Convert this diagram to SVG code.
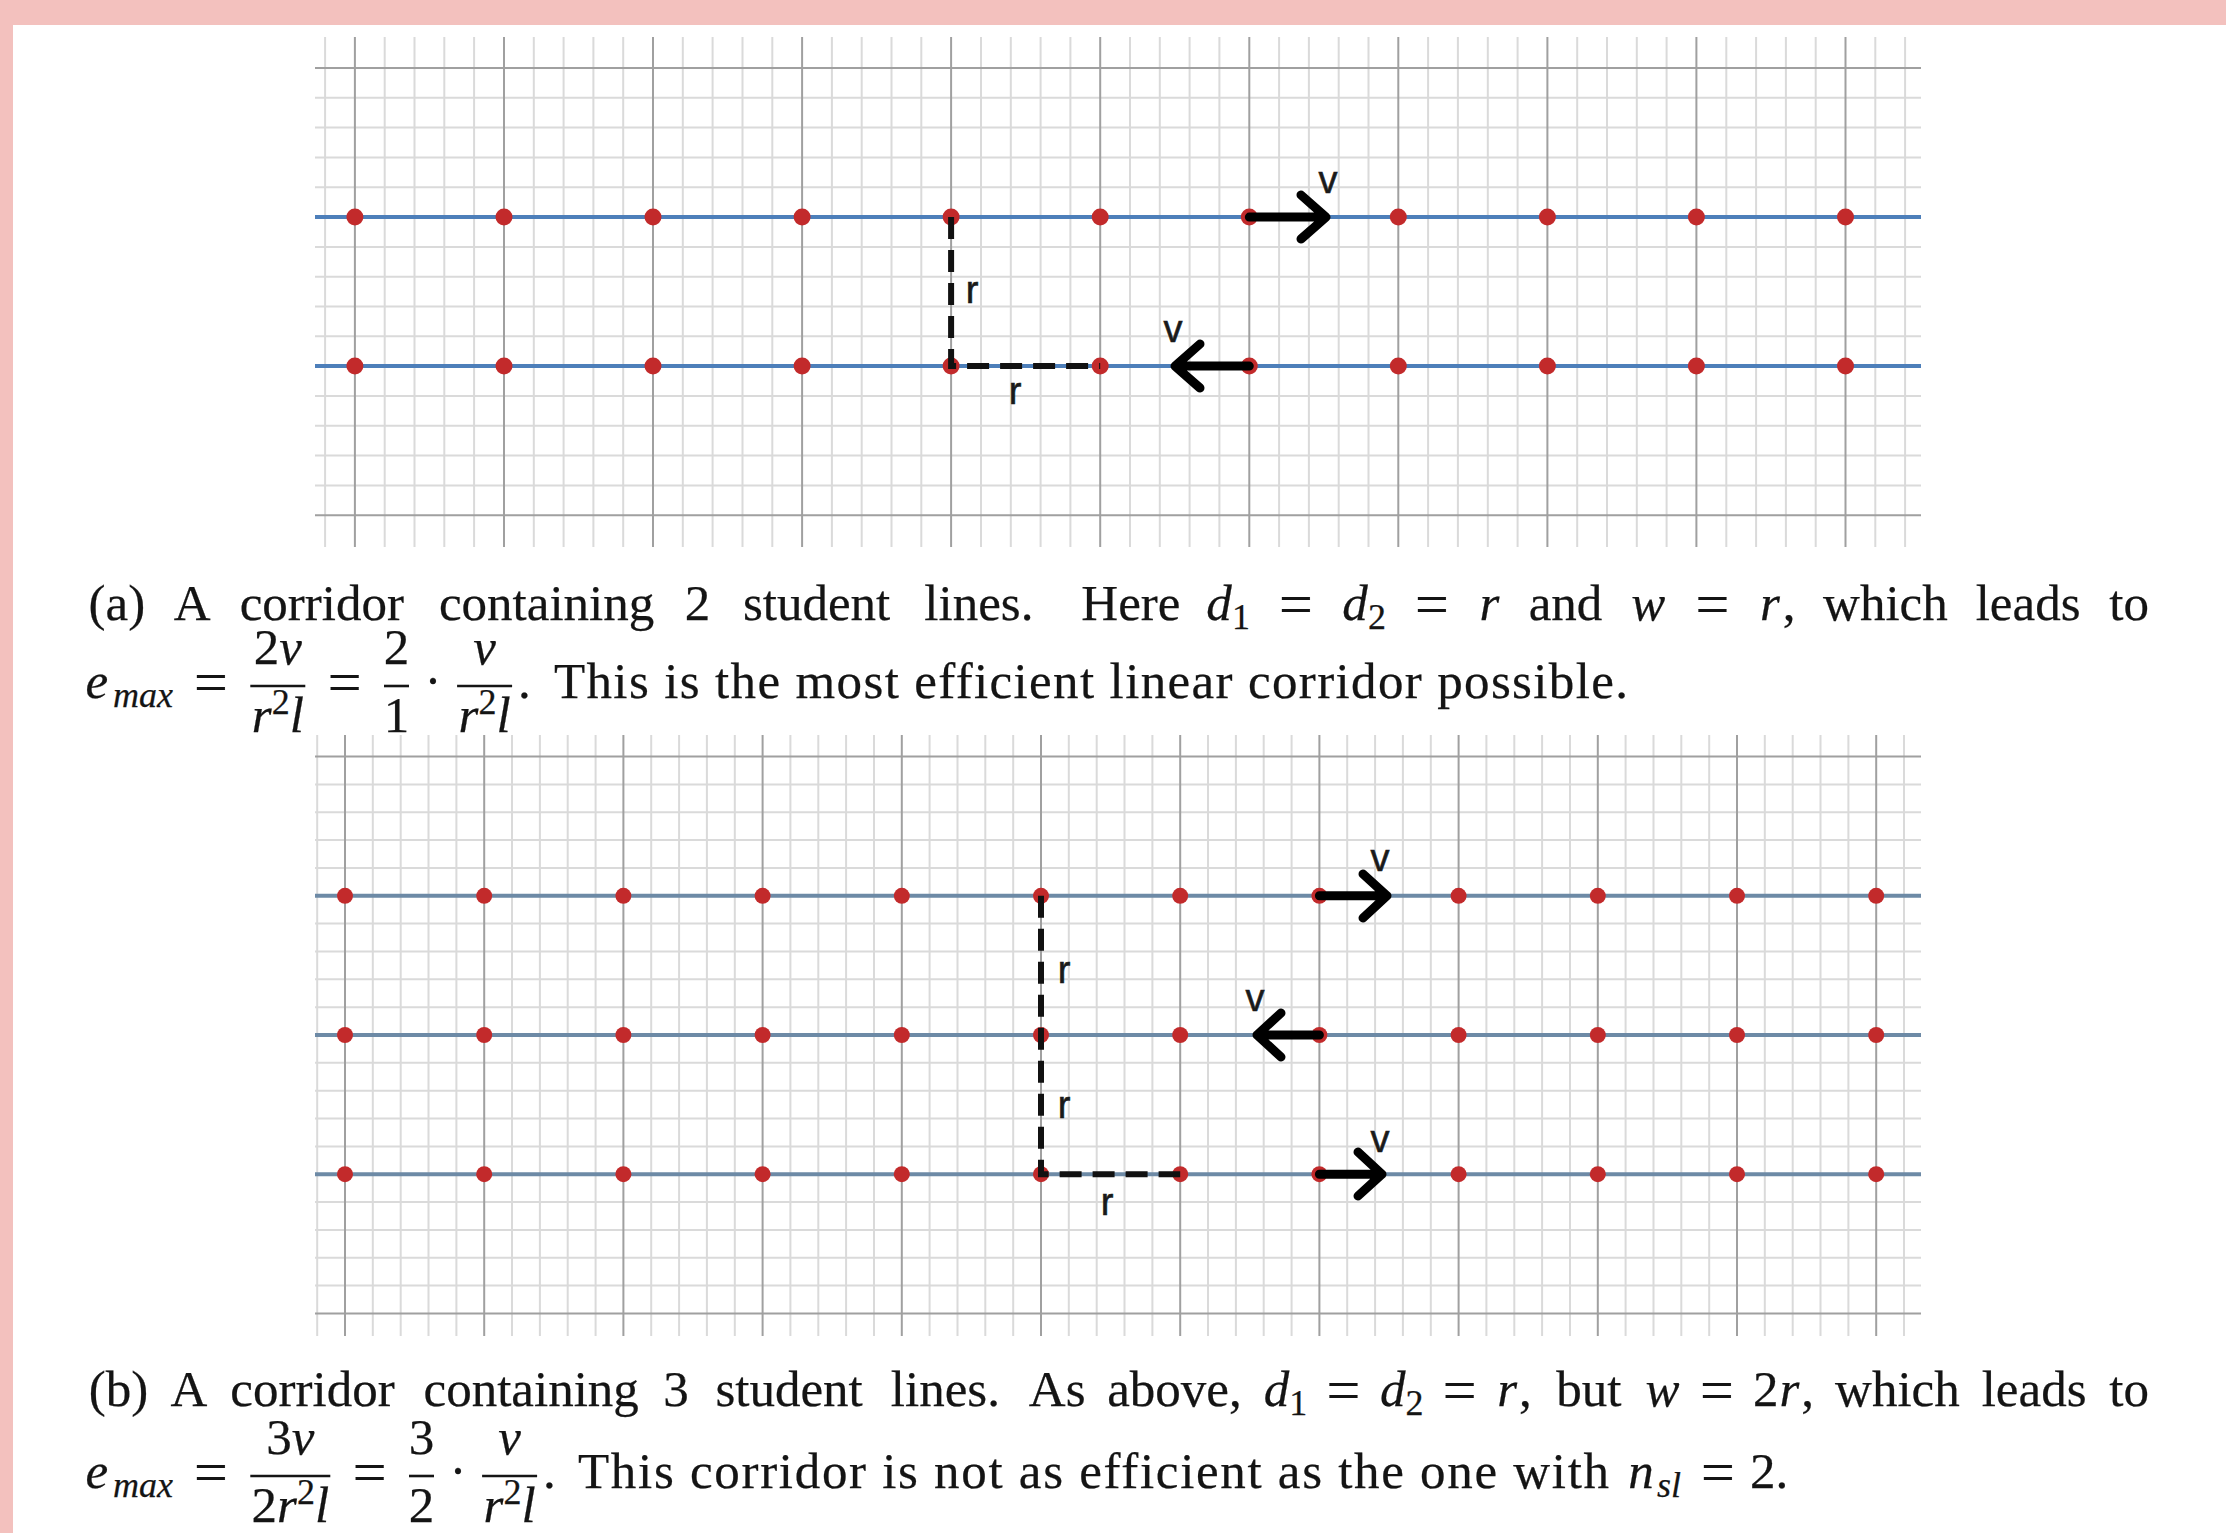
<svg xmlns="http://www.w3.org/2000/svg" width="2226" height="1533" viewBox="0 0 2226 1533">
<style>
.minor{stroke:#dadada;stroke-width:2;fill:none}
.major{stroke:#a0a0a0;stroke-width:2;fill:none}
.laneA{stroke:#4d7fba;stroke-width:4;fill:none}
.laneB{stroke:#6d8aa6;stroke-width:4;fill:none}
.dot{fill:#c22a2b}
.dash{stroke:#111;stroke-width:6;stroke-dasharray:22 11;fill:none}
.arrow{stroke:#000;stroke-width:9;fill:none;stroke-linecap:round;stroke-linejoin:round}
.lbl{font-family:"Liberation Sans",Arial,sans-serif;font-size:38px;fill:#1a1a1a;stroke:#1a1a1a;stroke-width:0.6;text-anchor:middle}
.cap{font-family:"Liberation Serif","Times New Roman",serif;font-size:51px;fill:#141414;stroke:#141414;stroke-width:0.25}
.it{font-style:italic}
.sm{font-size:36px}
.eq{font-size:60px}
.mid{text-anchor:middle}
.bar{stroke:#151515;stroke-width:2.6}
</style>
<rect x="0" y="0" width="2226" height="1533" fill="#f3c1be"/>
<rect x="13" y="25" width="2213" height="1508" fill="#ffffff"/>

<g id="grid-a">
<path class="minor" d="M325.1 37V547M384.7 37V547M414.5 37V547M444.3 37V547M474.1 37V547M533.8 37V547M563.6 37V547M593.4 37V547M623.2 37V547M682.8 37V547M712.6 37V547M742.5 37V547M772.3 37V547M831.9 37V547M861.7 37V547M891.5 37V547M921.3 37V547M981 37V547M1010.8 37V547M1040.6 37V547M1070.4 37V547M1130 37V547M1159.8 37V547M1189.6 37V547M1219.4 37V547M1279.1 37V547M1308.9 37V547M1338.7 37V547M1368.5 37V547M1428.1 37V547M1457.9 37V547M1487.8 37V547M1517.6 37V547M1577.2 37V547M1607 37V547M1636.8 37V547M1666.6 37V547M1726.3 37V547M1756.1 37V547M1785.9 37V547M1815.7 37V547M1875.3 37V547M1905.1 37V547"/>
<path class="minor" d="M315 97.8H1921M315 127.6H1921M315 157.4H1921M315 187.2H1921M315 246.9H1921M315 276.7H1921M315 306.5H1921M315 336.3H1921M315 395.9H1921M315 425.7H1921M315 455.6H1921M315 485.4H1921"/>
<path class="major" d="M354.9 37V547M504 37V547M653 37V547M802.1 37V547M951.1 37V547M1100.2 37V547M1249.3 37V547M1398.3 37V547M1547.4 37V547M1696.4 37V547M1845.5 37V547M315 68H1921M315 515.2H1921"/>
</g>

<g id="grid-b">
<path class="minor" d="M317.2 735V1336M372.8 735V1336M400.7 735V1336M428.5 735V1336M456.4 735V1336M512 735V1336M539.9 735V1336M567.7 735V1336M595.6 735V1336M651.2 735V1336M679.1 735V1336M706.9 735V1336M734.8 735V1336M790.4 735V1336M818.3 735V1336M846.1 735V1336M874 735V1336M929.6 735V1336M957.5 735V1336M985.3 735V1336M1013.2 735V1336M1068.8 735V1336M1096.7 735V1336M1124.5 735V1336M1152.4 735V1336M1208 735V1336M1235.9 735V1336M1263.7 735V1336M1291.6 735V1336M1347.2 735V1336M1375.1 735V1336M1402.9 735V1336M1430.8 735V1336M1486.4 735V1336M1514.3 735V1336M1542.1 735V1336M1570 735V1336M1625.6 735V1336M1653.5 735V1336M1681.3 735V1336M1709.2 735V1336M1764.8 735V1336M1792.7 735V1336M1820.5 735V1336M1848.4 735V1336M1904 735V1336"/>
<path class="minor" d="M315 784.4H1921M315 812.3H1921M315 840.1H1921M315 868H1921M315 923.6H1921M315 951.5H1921M315 979.3H1921M315 1007.2H1921M315 1062.8H1921M315 1090.7H1921M315 1118.5H1921M315 1146.4H1921M315 1202H1921M315 1229.9H1921M315 1257.7H1921M315 1285.6H1921"/>
<path class="major" d="M345 735V1336M484.2 735V1336M623.4 735V1336M762.6 735V1336M901.8 735V1336M1041 735V1336M1180.2 735V1336M1319.4 735V1336M1458.6 735V1336M1597.8 735V1336M1737 735V1336M1876.2 735V1336M315 756.6H1921M315 1313.4H1921"/>
</g>

<g id="lines-a">
<path class="laneA" d="M315 217.1H1921M315 366.1H1921"/>
</g>
<g id="lines-b">
<path class="laneB" d="M315 895.8H1921M315 1035H1921M315 1174.2H1921"/>
</g>

<g id="students-a">
<circle class="dot" cx="354.9" cy="217.1" r="8.5"/><circle class="dot" cx="504" cy="217.1" r="8.5"/><circle class="dot" cx="653" cy="217.1" r="8.5"/><circle class="dot" cx="802.1" cy="217.1" r="8.5"/><circle class="dot" cx="951.1" cy="217.1" r="8.5"/><circle class="dot" cx="1100.2" cy="217.1" r="8.5"/><circle class="dot" cx="1249.3" cy="217.1" r="8.5"/><circle class="dot" cx="1398.3" cy="217.1" r="8.5"/><circle class="dot" cx="1547.4" cy="217.1" r="8.5"/><circle class="dot" cx="1696.4" cy="217.1" r="8.5"/><circle class="dot" cx="1845.5" cy="217.1" r="8.5"/>
<circle class="dot" cx="354.9" cy="366.1" r="8.5"/><circle class="dot" cx="504" cy="366.1" r="8.5"/><circle class="dot" cx="653" cy="366.1" r="8.5"/><circle class="dot" cx="802.1" cy="366.1" r="8.5"/><circle class="dot" cx="951.1" cy="366.1" r="8.5"/><circle class="dot" cx="1100.2" cy="366.1" r="8.5"/><circle class="dot" cx="1249.3" cy="366.1" r="8.5"/><circle class="dot" cx="1398.3" cy="366.1" r="8.5"/><circle class="dot" cx="1547.4" cy="366.1" r="8.5"/><circle class="dot" cx="1696.4" cy="366.1" r="8.5"/><circle class="dot" cx="1845.5" cy="366.1" r="8.5"/>
</g>

<g id="students-b">
<circle class="dot" cx="345" cy="895.8" r="8"/><circle class="dot" cx="484.2" cy="895.8" r="8"/><circle class="dot" cx="623.4" cy="895.8" r="8"/><circle class="dot" cx="762.6" cy="895.8" r="8"/><circle class="dot" cx="901.8" cy="895.8" r="8"/><circle class="dot" cx="1041" cy="895.8" r="8"/><circle class="dot" cx="1180.2" cy="895.8" r="8"/><circle class="dot" cx="1319.4" cy="895.8" r="8"/><circle class="dot" cx="1458.6" cy="895.8" r="8"/><circle class="dot" cx="1597.8" cy="895.8" r="8"/><circle class="dot" cx="1737" cy="895.8" r="8"/><circle class="dot" cx="1876.2" cy="895.8" r="8"/>
<circle class="dot" cx="345" cy="1035" r="8"/><circle class="dot" cx="484.2" cy="1035" r="8"/><circle class="dot" cx="623.4" cy="1035" r="8"/><circle class="dot" cx="762.6" cy="1035" r="8"/><circle class="dot" cx="901.8" cy="1035" r="8"/><circle class="dot" cx="1041" cy="1035" r="8"/><circle class="dot" cx="1180.2" cy="1035" r="8"/><circle class="dot" cx="1319.4" cy="1035" r="8"/><circle class="dot" cx="1458.6" cy="1035" r="8"/><circle class="dot" cx="1597.8" cy="1035" r="8"/><circle class="dot" cx="1737" cy="1035" r="8"/><circle class="dot" cx="1876.2" cy="1035" r="8"/>
<circle class="dot" cx="345" cy="1174.2" r="8"/><circle class="dot" cx="484.2" cy="1174.2" r="8"/><circle class="dot" cx="623.4" cy="1174.2" r="8"/><circle class="dot" cx="762.6" cy="1174.2" r="8"/><circle class="dot" cx="901.8" cy="1174.2" r="8"/><circle class="dot" cx="1041" cy="1174.2" r="8"/><circle class="dot" cx="1180.2" cy="1174.2" r="8"/><circle class="dot" cx="1319.4" cy="1174.2" r="8"/><circle class="dot" cx="1458.6" cy="1174.2" r="8"/><circle class="dot" cx="1597.8" cy="1174.2" r="8"/><circle class="dot" cx="1737" cy="1174.2" r="8"/><circle class="dot" cx="1876.2" cy="1174.2" r="8"/>
</g>

<g id="connectors">
<path class="dash" d="M951.1 217.1V366.1H1100.2"/>
<path class="arrow" d="M1249.3 217.1H1326M1301 195L1326 217.1L1301 239"/>
<path class="arrow" d="M1249.3 366.1H1175M1200 344L1175 366.1L1200 388"/>
<path class="dash" d="M1041 895.8V1174.2H1180.2"/>
<path class="arrow" d="M1319.4 895.8H1387M1363 874L1387 895.8L1363 918"/>
<path class="arrow" d="M1319.4 1035H1257M1281 1013L1257 1035L1281 1057"/>
<path class="arrow" d="M1319.4 1174.2H1382M1358 1152L1382 1174.2L1358 1196"/>
</g>

<g id="labels">
<text class="lbl" x="972" y="303">r</text>
<text class="lbl" x="1015" y="404">r</text>
<text class="lbl" x="1328" y="193">v</text>
<text class="lbl" x="1173" y="342">v</text>
<text class="lbl" x="1064" y="983">r</text>
<text class="lbl" x="1064" y="1118">r</text>
<text class="lbl" x="1107" y="1215">r</text>
<text class="lbl" x="1380" y="871">v</text>
<text class="lbl" x="1255" y="1011">v</text>
<text class="lbl" x="1380" y="1152">v</text>
</g>

<g id="caption-a">
<text class="cap mid" y="620"><tspan x="116.9">(a)</tspan><tspan x="192.2">A</tspan><tspan x="321.8">corridor</tspan><tspan x="546.6">containing</tspan><tspan x="697.5">2</tspan><tspan x="816.6">student</tspan><tspan x="978.9">lines.</tspan><tspan x="1130.9">Here</tspan><tspan x="1219.1" class="it">d</tspan><tspan x="1241" y="629" class="sm">1</tspan><tspan x="1295.9" y="624" class="eq">=</tspan><tspan x="1355.1" y="620" class="it">d</tspan><tspan x="1377" y="629" class="sm">2</tspan><tspan x="1431.9" y="624" class="eq">=</tspan><tspan x="1489.4" y="620" class="it">r</tspan><tspan x="1565.5">and</tspan><tspan x="1648.2" class="it">w</tspan><tspan x="1712.4" y="624" class="eq">=</tspan><tspan x="1769.9" y="620" class="it">r</tspan><tspan x="1789">,</tspan><tspan x="1885.4">which</tspan><tspan x="2028.1">leads</tspan><tspan x="2129.2">to</tspan></text>
<text class="cap mid" y="698"><tspan x="96.7" class="it">e</tspan><tspan x="143" y="707" class="it sm">max</tspan><tspan x="211" y="702" class="eq">=</tspan><tspan x="344.7" class="eq">=</tspan></text>
<line class="bar" x1="250.3" y1="686" x2="305.3" y2="686"/>
<text class="cap mid" x="277.8" y="664">2<tspan class="it">v</tspan></text>
<text class="cap mid" x="277.8" y="732"><tspan class="it">r</tspan><tspan dy="-18" class="sm">2</tspan><tspan dy="18" class="it">l</tspan></text>
<line class="bar" x1="384" y1="686" x2="409" y2="686"/>
<text class="cap mid" x="396.5" y="664">2</text>
<text class="cap mid" x="396.5" y="732">1</text>
<text class="cap mid" x="433" y="698">·</text>
<line class="bar" x1="457.1" y1="686" x2="512.1" y2="686"/>
<text class="cap mid it" x="484.6" y="664">v</text>
<text class="cap mid" x="484.6" y="732"><tspan class="it">r</tspan><tspan dy="-18" class="sm">2</tspan><tspan dy="18" class="it">l</tspan></text>
<text class="cap" x="518" y="698">.</text>
<text class="cap" x="554" y="698" textLength="1074" lengthAdjust="spacing">This is the most efficient linear corridor possible.</text>
</g>

<g id="caption-b">
<text class="cap mid" y="1406"><tspan x="118.4">(b)</tspan><tspan x="189">A</tspan><tspan x="312.5">corridor</tspan><tspan x="531.2">containing</tspan><tspan x="676.1">3</tspan><tspan x="789.1">student</tspan><tspan x="945.4">lines.</tspan><tspan x="1057.2">As</tspan><tspan x="1174.5">above,</tspan><tspan x="1276.5" class="it">d</tspan><tspan x="1298.3" y="1415" class="sm">1</tspan><tspan x="1343.4" y="1410" class="eq">=</tspan><tspan x="1392.7" y="1406" class="it">d</tspan><tspan x="1414.5" y="1415" class="sm">2</tspan><tspan x="1459.6" y="1410" class="eq">=</tspan><tspan x="1507.2" y="1406" class="it">r</tspan><tspan x="1525.4">,</tspan><tspan x="1588.8">but</tspan><tspan x="1662.6" class="it">w</tspan><tspan x="1716.9" y="1410" class="eq">=</tspan><tspan x="1765.7" y="1406">2</tspan><tspan x="1789.5" class="it">r</tspan><tspan x="1807.7">,</tspan><tspan x="1897.4">which</tspan><tspan x="2034.1">leads</tspan><tspan x="2129.1">to</tspan></text>
<text class="cap mid" y="1488"><tspan x="96.7" class="it">e</tspan><tspan x="143" y="1497" class="it sm">max</tspan><tspan x="211" y="1492" class="eq">=</tspan><tspan x="369.6" class="eq">=</tspan></text>
<line class="bar" x1="250.3" y1="1476" x2="330.3" y2="1476"/>
<text class="cap mid" x="290.3" y="1454">3<tspan class="it">v</tspan></text>
<text class="cap mid" x="290.3" y="1522">2<tspan class="it">r</tspan><tspan dy="-18" class="sm">2</tspan><tspan dy="18" class="it">l</tspan></text>
<line class="bar" x1="409" y1="1476" x2="434" y2="1476"/>
<text class="cap mid" x="421.5" y="1454">3</text>
<text class="cap mid" x="421.5" y="1522">2</text>
<text class="cap mid" x="458" y="1488">·</text>
<line class="bar" x1="482.1" y1="1476" x2="537.1" y2="1476"/>
<text class="cap mid it" x="509.6" y="1454">v</text>
<text class="cap mid" x="509.6" y="1522"><tspan class="it">r</tspan><tspan dy="-18" class="sm">2</tspan><tspan dy="18" class="it">l</tspan></text>
<text class="cap" x="543" y="1488">.</text>
<text class="cap" x="578" y="1488" textLength="1031" lengthAdjust="spacing">This corridor is not as efficient as the one with</text>
<text class="cap mid" y="1488"><tspan x="1641" class="it">n</tspan><tspan x="1669" y="1497" class="it sm">sl</tspan><tspan x="1718" y="1492" class="eq">=</tspan></text>
<text class="cap" x="1750" y="1488">2.</text>
</g>
</svg>
